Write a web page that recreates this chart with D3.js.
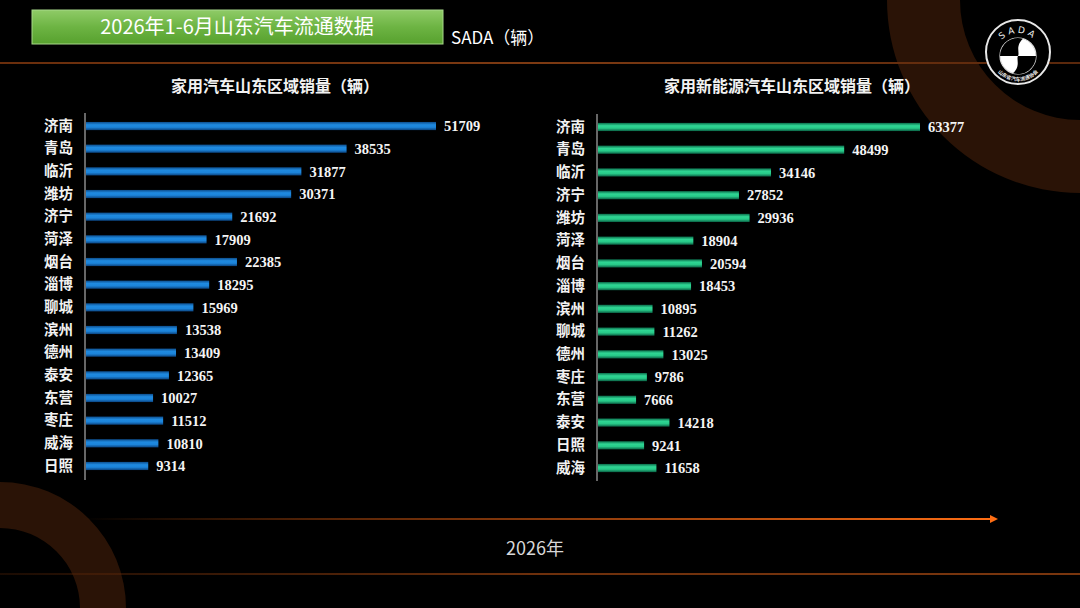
<!DOCTYPE html>
<html><head><meta charset="utf-8">
<script src="https://cdn.jsdelivr.net/npm/d3@7/dist/d3.min.js"></script>
<style>html,body{margin:0;padding:0;background:#000;}svg{display:block;}</style>
</head><body>
<svg id="c" width="1080" height="608"></svg>
<script>
const title = "2026年1-6月山东汽车流通数据";
const unitLabel = "SADA（辆）";
const leftTitle = "家用汽车山东区域销量（辆）";
const rightTitle = "家用新能源汽车山东区域销量（辆）";
const yearLabel = "2026年";

const leftCities = ["济南","青岛","临沂","潍坊","济宁","菏泽","烟台","淄博","聊城","滨州","德州","泰安","东营","枣庄","威海","日照"];
const leftValues = [51709,38535,31877,30371,21692,17909,22385,18295,15969,13538,13409,12365,10027,11512,10810,9314];

const rightCities = ["济南","青岛","临沂","济宁","潍坊","菏泽","烟台","淄博","滨州","聊城","德州","枣庄","东营","泰安","日照","威海"];
const rightValues = [63377,48499,34146,27852,29936,18904,20594,18453,10895,11262,13025,9786,7666,14218,9241,11658];

const svg = d3.select("#c");
const defs = svg.append("defs");
const W = 1080, H = 608;

svg.append("rect").attr("width",W).attr("height",H).attr("fill","#000");

// decorative rings
const arc = d3.arc();
svg.append("path").attr("transform","translate(1080,0)")
  .attr("d", arc({innerRadius:120, outerRadius:193, startAngle:Math.PI, endAngle:1.5*Math.PI}))
  .attr("fill","#2a1306");
svg.append("path").attr("transform","translate(0,608)")
  .attr("d", arc({innerRadius:80, outerRadius:126, startAngle:0, endAngle:Math.PI/2}))
  .attr("fill","#2a1306");

// gradients
function lg(id, stops, vertical){
  const g = defs.append("linearGradient").attr("id",id)
    .attr("x1",0).attr("y1",0).attr("x2",vertical?0:1).attr("y2",vertical?1:0);
  stops.forEach(s=>g.append("stop").attr("offset",s[0]).attr("stop-color",s[1]).attr("stop-opacity",s[2]===undefined?1:s[2]));
}
lg("gTitle",[[0,"#8fcb67"],[0.5,"#6db443"],[1,"#57a12e"]],true);
lg("gBlue",[[0,"#0d4d8c"],[0.35,"#1f8ae0"],[0.65,"#1c84da"],[1,"#0b4480"]],true);
lg("gGreen",[[0,"#0b6b4a"],[0.35,"#2fd694"],[0.65,"#27c988"],[1,"#0a6044"]],true);
lg("gTop",[[0,"#6a2e0c"],[0.5,"#7d3a12"],[1,"#5a280c"]],false);
lg("gArrow",[[0,"#ff6a10",0],[0.4,"#c0500f",0.6],[1,"#ff6e14",1]],false);
lg("gBottom",[[0,"#5a2608",0.3],[0.5,"#6e300c"],[1,"#7a360e"]],false);

// lines
svg.append("rect").attr("x",0).attr("y",62).attr("width",W).attr("height",2).attr("fill","url(#gTop)");
svg.append("rect").attr("x",82).attr("y",518).attr("width",910).attr("height",2).attr("fill","url(#gArrow)");
svg.append("path").attr("d",d3.line()([[990,515],[998,519],[990,523]])+"Z").attr("fill","#ff6e14");
svg.append("rect").attr("x",0).attr("y",573).attr("width",W).attr("height",2).attr("fill","url(#gBottom)");

// title box
svg.append("rect").attr("x",32).attr("y",10).attr("width",411).attr("height",34)
  .attr("fill","url(#gTitle)").attr("stroke","#a8d98a").attr("stroke-width",1);
svg.append("text").attr("x",237).attr("y",34).attr("text-anchor","middle")
  .attr("font-family","'Noto Sans CJK SC',sans-serif").attr("font-size",20).attr("fill","#fff")
  .text(title);
svg.append("text").attr("x",451).attr("y",44)
  .attr("font-family","'Noto Sans CJK SC',sans-serif").attr("font-size",17).attr("fill","#fff")
  .text(unitLabel);

// logo
const logo = svg.append("g").attr("transform","translate(1018,52)");
logo.append("circle").attr("r",32).attr("fill","#000").attr("stroke","#e8e8e8").attr("stroke-width",2);
defs.append("path").attr("id","arcTop").attr("d","M -23,4 A 23,23 0 0 1 23,4");
defs.append("path").attr("id","arcBot").attr("d","M -27,2 A 27,27 0 0 0 27,2");
logo.append("text").attr("font-family","'DejaVu Sans',sans-serif").attr("font-size",9).attr("fill","#eee")
  .attr("letter-spacing",3)
  .append("textPath").attr("href","#arcTop").attr("startOffset","50%").attr("text-anchor","middle").text("SADA");
logo.append("text").attr("font-family","'Noto Sans CJK SC',sans-serif").attr("font-size",5).attr("fill","#eee")
  .attr("font-weight","bold")
  .append("textPath").attr("href","#arcBot").attr("startOffset","50%").attr("text-anchor","middle").text("山东省汽车流通协会");
const ic = logo.append("g").attr("transform","translate(0,4)");
ic.append("circle").attr("r",18).attr("fill","#fff").attr("stroke","#ddd").attr("stroke-width",1.2);
ic.append("path").attr("d","M -18,0 A 18,18 0 0 1 5,-17.3 C -3,-10 2,-3 0,0 Z").attr("fill","#000");
ic.append("path").attr("d","M 18,0 A 18,18 0 0 1 -5,17.3 C 3,10 -2,3 0,0 Z").attr("fill","#000");

// charts
function drawChart(cfg){
  const g = svg.append("g");
  const y = d3.scaleBand().domain(cfg.cats).range(cfg.yRange).paddingInner(0.64).paddingOuter(0.32);
  const x = d3.scaleLinear().domain([0, d3.max(cfg.vals)]).range([cfg.x0, cfg.x1]);
  const data = cfg.cats.map((c,i)=>({c, v:cfg.vals[i]}));
  g.selectAll("rect.bar").data(data).enter().append("rect").attr("class","bar")
    .attr("x",x(0)+1).attr("y",d=>y(d.c)).attr("height",y.bandwidth())
    .attr("width",d=>x(d.v)-x(0)-1).attr("fill",cfg.fill);
  const axis = d3.axisLeft(y).tickSize(0).tickPadding(12);
  const ag = g.append("g").attr("transform",`translate(${x(0)},0)`).call(axis);
  ag.select(".domain").attr("stroke","#8a8a8a").attr("stroke-width",1.5)
    .attr("d",`M0,${cfg.axisY[0]}V${cfg.axisY[1]}`);
  ag.selectAll(".tick text").attr("fill","#f2f2f2").attr("font-size",14.5).attr("font-weight","bold")
    .attr("font-family","'Noto Sans CJK SC',sans-serif");
  g.selectAll("text.val").data(data).enter().append("text").attr("class","val")
    .attr("x",d=>x(d.v)+8).attr("y",d=>y(d.c)+y.bandwidth()/2).attr("dy","0.36em")
    .attr("fill","#f4f4f4").attr("font-size",14.5).attr("font-weight","bold")
    .attr("font-family","'Liberation Serif',serif").text(d=>d.v);
  g.append("text").attr("x",cfg.titleX).attr("y",92).attr("text-anchor","middle")
    .attr("fill","#f2f2f2").attr("font-size",16).attr("font-weight","bold")
    .attr("font-family","'Noto Sans CJK SC',sans-serif").text(cfg.title);
}
drawChart({cats:leftCities, vals:leftValues, x0:85, x1:436, yRange:[114.7,477.3], axisY:[113,480],
  fill:"url(#gBlue)", title:leftTitle, titleX:275});
drawChart({cats:rightCities, vals:rightValues, x0:597, x1:920, yRange:[115.6,479.4], axisY:[114,481],
  fill:"url(#gGreen)", title:rightTitle, titleX:792});

svg.append("text").attr("x",535).attr("y",555).attr("text-anchor","middle")
  .attr("fill","#d8d8d8").attr("font-size",18)
  .attr("font-family","'Noto Sans CJK SC',sans-serif").text(yearLabel);
</script>
</body></html>
